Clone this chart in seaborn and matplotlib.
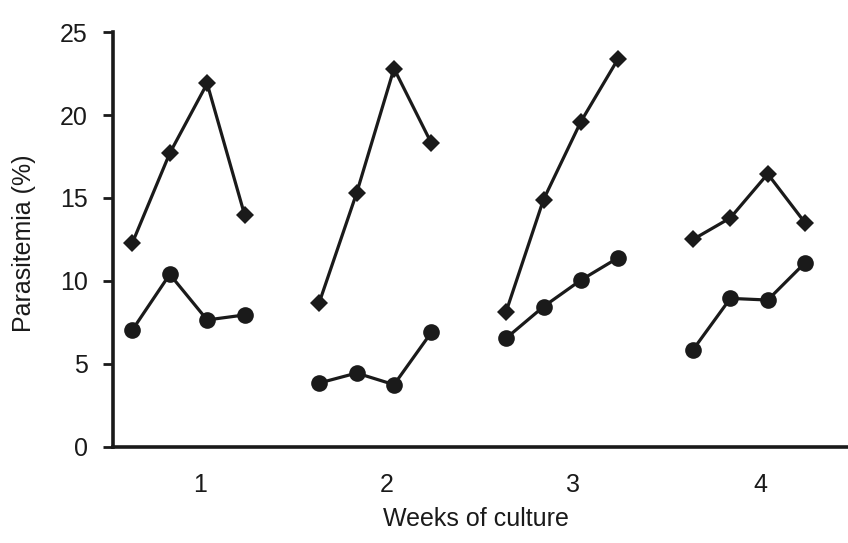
"""Parasitemia over weeks of culture."""
import matplotlib
matplotlib.use("Agg")
import matplotlib.pyplot as plt
import pandas as pd
import seaborn as sns

weeks = [1, 2, 3, 4]
# offsets of the four samples within each week group
offsets = [-0.36, -0.16, 0.04, 0.24]

diamond_vals = [
    [12.3, 17.7, 21.9, 14.0],
    [8.7, 15.3, 22.8, 18.3],
    [8.15, 14.9, 19.6, 23.4],
    [12.5, 13.8, 16.45, 13.5],
]
circle_vals = [
    [7.05, 10.4, 7.65, 7.95],
    [3.85, 4.45, 3.75, 6.9],
    [6.55, 8.45, 10.05, 11.4],
    [5.85, 8.95, 8.85, 11.1],
]

rows = []
for i, w in enumerate(weeks):
    for j, off in enumerate(offsets):
        rows.append({"week": w, "x": w + off, "value": diamond_vals[i][j], "series": "diamond"})
        rows.append({"week": w, "x": w + off, "value": circle_vals[i][j], "series": "circle"})
df = pd.DataFrame(rows)

sns.set_theme(style="white")
plt.rcParams["font.family"] = ["Liberation Sans", "DejaVu Sans"]

fig = plt.figure(figsize=(8.48, 5.43), dpi=100)
ax = fig.add_axes([0.133, 0.177, 0.866, 0.764])

for s, mk, ms in [("diamond", "D", 9.5), ("circle", "o", 12)]:
    sub = df[df["series"] == s]
    sns.lineplot(data=sub, x="x", y="value", units="week", estimator=None,
                 color="#1a1a1a", linewidth=2.3, marker=mk, markersize=ms,
                 markeredgewidth=0, ax=ax, legend=False)

ax.set_xlim(0.535, 4.465)
ax.set_ylim(0, 25)
ax.set_yticks([0, 5, 10, 15, 20, 25])
ax.set_xticks(weeks)
ax.tick_params(axis="y", direction="out", length=7, width=2, color="#1a1a1a",
               labelsize=18, pad=11, left=True)
ax.tick_params(axis="x", length=0, labelsize=18, pad=19)
for lbl in ax.get_xticklabels() + ax.get_yticklabels():
    lbl.set_color("#1a1a1a")

sns.despine(ax=ax)
for sp in ["left", "bottom"]:
    ax.spines[sp].set_linewidth(2.6)
    ax.spines[sp].set_color("#1a1a1a")

ax.set_xlabel("Weeks of culture", fontsize=18, color="#1a1a1a")
ax.set_ylabel("Parasitemia (%)", fontsize=18, color="#1a1a1a")
ax.xaxis.set_label_coords(0.494, -0.145)
ax.yaxis.set_label_coords(-0.105, 0.49)
ax.xaxis.label.set_va("top")

fig.savefig("out.png", dpi=100)
plt.close(fig)
